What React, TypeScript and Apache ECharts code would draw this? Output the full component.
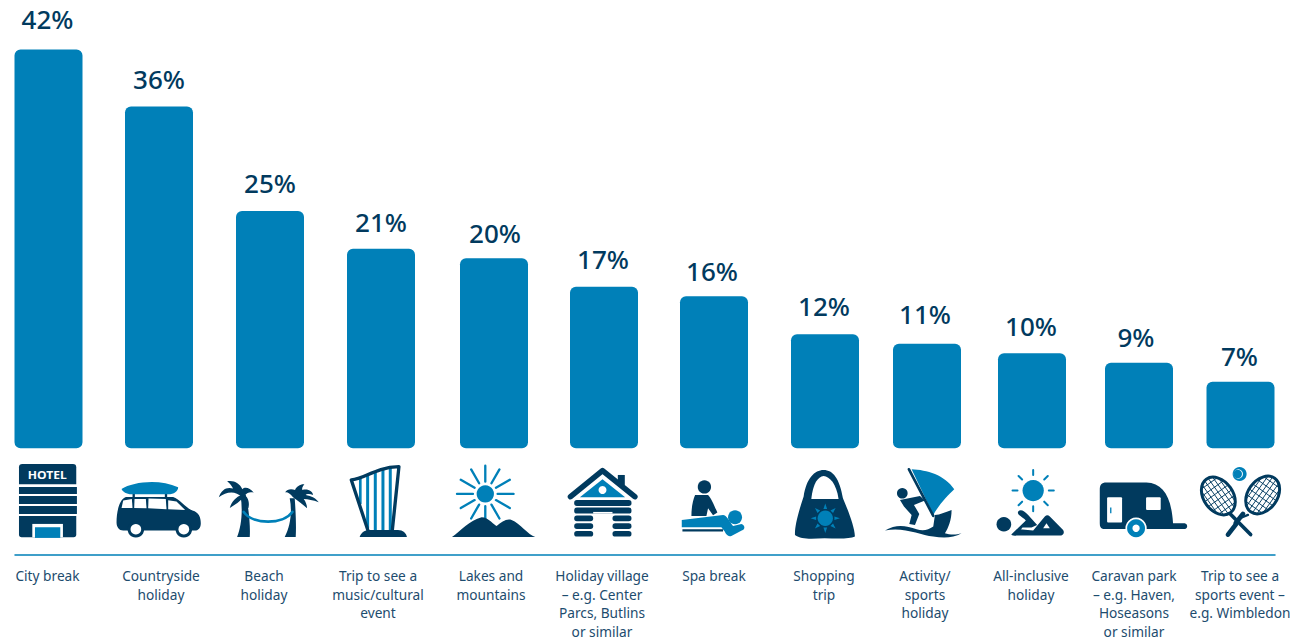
import React, { useEffect, useRef } from "react";
import * as echarts from "echarts";

const categories = [
  "City break",
  "Countryside\nholiday",
  "Beach\nholiday",
  "Trip to see a\nmusic/cultural\nevent",
  "Lakes and\nmountains",
  "Holiday village\n– e.g. Center\nParcs, Butlins\nor similar",
  "Spa break",
  "Shopping\ntrip",
  "Activity/\nsports\nholiday",
  "All-inclusive\nholiday",
  "Caravan park\n– e.g. Haven,\nHoseasons\nor similar",
  "Trip to see a\nsports event –\ne.g. Wimbledon",
];
const shares = [42, 36, 25, 21, 20, 17, 16, 12, 11, 10, 9, 7];

// Slot centres on the horizontal scale, which runs 15..1275 across the rule.
const barSlots = [48.5, 159, 270, 381, 494, 604, 714, 825, 927, 1032, 1139, 1240.5];
const captionSlots = [47.5, 161, 264, 378, 491, 602, 714, 824, 925, 1031, 1134, 1240];
const valueNudgeX = [-1, 0, 0, 0, 1, -1, -2, -1, -2, -1, -3, -1];
const valueNudgeY = [-5.5, -2, -3, -1.5, -0.5, -3, 0, -3, -5, -2, -1, -1];

const BLUE = "#0080b8";
const NAVY = "#013a5e";
const WHITE = "#ffffff";

let shapeCount = 0;
function pathEl(d: string, fill: string, stroke?: string, lineWidth?: number) {
  const name = "pictogram" + shapeCount++;
  echarts.graphic.registerShape(name, echarts.graphic.extendPath(d, {}));
  return {
    type: name,
    style: stroke ? { fill: fill, stroke, lineWidth, lineCap: "round", lineJoin: "round" } : { fill },
  };
}
const strokeEl = (d: string, color: string, width: number) => pathEl(d, "none", color, width);
const disc = (cx: number, cy: number, r: number, fill: string) => ({
  type: "circle",
  shape: { cx, cy, r },
  style: { fill },
});
const box = (x: number, y: number, width: number, height: number, fill: string, r = 0) => ({
  type: "rect",
  shape: { x, y, width, height, r },
  style: { fill },
});

function rays(cx: number, cy: number, r1: number, r2: number, n: number, start = 0) {
  let d = "";
  for (let i = 0; i < n; i++) {
    const a = start + (i * 2 * Math.PI) / n;
    d += `M ${cx + r1 * Math.cos(a)} ${cy + r1 * Math.sin(a)} L ${cx + r2 * Math.cos(a)} ${cy + r2 * Math.sin(a)} `;
  }
  return d;
}
function spikes(cx: number, cy: number, r1: number, r2: number, n: number, half: number) {
  let d = "";
  for (let i = 0; i < n; i++) {
    const a = (i * 2 * Math.PI) / n;
    const p = (r: number, t: number) => `${cx + r * Math.cos(t)} ${cy + r * Math.sin(t)}`;
    d += `M ${p(r1, a - half)} L ${p(r2, a)} L ${p(r1, a + half)} Z `;
  }
  return d;
}

// A racket head: outline plus crossing strings, built in the head's own frame.
function racketHead(cx: number, cy: number, rx: number, ry: number, rotation: number) {
  let strings = "";
  for (let u = -rx + 11; u < rx; u += 13) {
    const h = ry * Math.sqrt(1 - (u * u) / (rx * rx));
    strings += `M ${u} ${-h} L ${u} ${h} `;
    const w = rx * Math.sqrt(Math.max(0, 1 - (u * u) / (rx * rx)));
    strings += `M ${-w} ${(u * ry) / rx} L ${w} ${(u * ry) / rx} `;
  }
  return {
    type: "group",
    x: cx,
    y: cy,
    rotation,
    children: [
      { type: "ellipse", shape: { cx: 0, cy: 0, rx, ry }, style: { fill: WHITE } },
      strokeEl(strings, NAVY, 2.6),
      { type: "ellipse", shape: { cx: 0, cy: 0, rx, ry }, style: { fill: "none", stroke: NAVY, lineWidth: 9 } },
    ],
  };
}

function buildPictograms() {
  // Left third of the row
  const hotel = [
    pathEl("M 57 133 L 57 82 Q 57 72 67 72 L 219 72 Q 229 72 229 82 L 229 133 Z", NAVY),
    {
      type: "group",
      x: 142,
      y: 106,
      scaleX: 1.17,
      children: [
        {
          type: "text",
          style: {
            x: 0,
            y: 0,
            text: "HOTEL",
            fill: WHITE,
            font: "bold 31px 'Noto Sans'",
            textAlign: "center",
            textVerticalAlign: "middle",
          },
        },
      ],
    },
    box(57, 141, 174, 21, NAVY),
    box(57, 168, 174, 24, NAVY),
    box(57, 198, 174, 24, NAVY),
    pathEl("M 57 228 L 229 228 L 229 284 Q 229 292 221 292 L 65 292 Q 57 292 57 284 Z", NAVY),
    box(97, 252, 92, 40, WHITE),
    box(105, 262, 76, 32, BLUE),
  ];
  const van = [
    box(398, 158, 7, 18, NAVY),
    box(495, 158, 7, 18, NAVY),
    pathEl("M 365 147 C 400 125 480 116 535 142 C 535 155 520 165 500 163 L 395 163 C 380 163 368 155 365 147 Z", BLUE),
    pathEl("M 350 248 C 350 215 358 178 378 171 L 520 171 C 540 178 560 205 578 212 C 597 218 603 232 603 250 C 603 265 595 272 585 272 L 370 272 C 358 272 350 262 350 248 Z", NAVY),
    pathEl("M 365 204 L 370 182 L 396 177 L 398 204 Z", WHITE),
    pathEl("M 404 177 L 438 177 L 440 205 L 403 204 Z", WHITE),
    pathEl("M 446 176 L 498 177 L 500 208 L 445 205 Z", WHITE),
    pathEl("M 505 181 L 530 185 L 556 210 L 505 208 Z", WHITE),
    disc(408, 268, 25, NAVY),
    disc(408, 268, 16, WHITE),
    disc(552, 268, 25, NAVY),
    disc(552, 268, 16, WHITE),
  ];
  const palms = [
    pathEl("M 712 291 C 725 260 730 210 722 165 L 738 165 C 748 210 752 260 750 291 Z", NAVY),
    pathEl("M 728 172 C 705 150 680 155 657 172 C 665 150 680 140 700 146 C 694 135 688 128 682 124 C 702 120 720 130 728 148 C 735 140 750 143 762 158 C 750 155 742 158 736 166 C 746 175 750 190 746 205 C 738 195 732 182 728 172 Z", NAVY),
    pathEl("M 725 165 C 710 170 695 185 690 204 C 705 195 722 185 732 170 Z", NAVY),
    pathEl("M 855 291 C 872 260 878 215 870 175 L 885 175 C 888 215 890 260 888 291 Z", NAVY),
    pathEl("M 880 172 C 870 158 860 155 856 158 C 862 146 876 146 886 150 C 890 140 902 132 914 133 C 908 140 906 146 908 150 C 925 145 940 155 940 165 C 930 160 920 162 918 165 C 935 168 950 175 957 187 C 940 180 925 178 912 177 C 918 185 922 195 922 205 C 910 195 895 182 880 172 Z", NAVY),
    strokeEl("M 732 216 C 760 255 850 255 878 216", BLUE, 8),
  ];
  const harp = [
    strokeEl("M 1082 118 L 1082 190", BLUE, 8),
    strokeEl("M 1104 106 L 1104 262", BLUE, 9),
    strokeEl("M 1127 98 L 1127 272", BLUE, 9),
    strokeEl("M 1150 90 L 1150 272", BLUE, 9),
    strokeEl("M 1172 85 L 1172 272", BLUE, 9),
    strokeEl("M 1055 120 C 1095 118 1125 82 1198 80 L 1178 272 M 1055 120 L 1105 272", NAVY, 10),
    pathEl("M 1080 291 C 1085 277 1095 270 1110 270 L 1195 270 C 1210 270 1220 280 1222 291 Z", NAVY),
  ];

  // Middle third of the row
  const lakes = [
    disc(136, 162, 26, BLUE),
    strokeEl(rays(136, 162, 37, 85, 4), BLUE, 7),
    strokeEl(rays(136, 162, 37, 85, 4, Math.PI / 6) + rays(136, 162, 37, 85, 4, -Math.PI / 6), BLUE, 7),
    pathEl("M 36 291 C 60 275 90 240 125 232 C 145 232 165 258 170 258 C 185 245 200 235 215 240 C 240 250 265 285 286 291 Z", NAVY),
  ];
  const cabin = [
    box(534, 105, 21, 30, NAVY),
    strokeEl("M 392 170 L 488 92 L 585 170", NAVY, 17),
    pathEl("M 420 172 L 488 118 L 556 172 Z", BLUE),
    disc(488, 150, 12, WHITE),
    box(403, 180, 172, 18, NAVY, 8),
    box(403, 203, 172, 18, NAVY, 8),
    box(403, 227, 57, 17, NAVY, 8),
    box(518, 227, 57, 17, NAVY, 8),
    box(403, 250, 57, 17, NAVY, 8),
    box(518, 250, 57, 17, NAVY, 8),
    box(403, 273, 57, 17, NAVY, 8),
    box(518, 273, 57, 17, NAVY, 8),
    box(460, 216, 58, 5, WHITE),
  ];
  const spa = [
    disc(794, 141, 20, NAVY),
    pathEl("M 766 165 L 805 165 C 815 175 825 200 833 218 L 820 226 L 805 205 L 800 228 L 755 228 C 755 200 760 180 766 165 Z", NAVY),
    pathEl("M 726 240 L 850 225 C 860 225 870 245 880 258 L 905 252 C 916 255 918 268 906 272 L 875 288 C 865 291 860 285 855 275 L 845 262 L 726 262 Z", BLUE),
    disc(886, 232, 21, BLUE),
    box(728, 268, 122, 7, NAVY),
  ];
  const bag = [
    pathEl("M 1092 170 C 1100 115 1125 90 1152 90 C 1180 90 1200 115 1210 175 C 1225 210 1245 260 1246 290 C 1230 298 1190 296 1155 295 C 1120 296 1085 300 1066 285 C 1065 260 1075 220 1092 170 Z", NAVY),
    pathEl("M 1115 177 C 1120 130 1135 110 1152 108 C 1170 110 1190 130 1197 177 Z", WHITE),
    disc(1157, 235, 23, BLUE),
    pathEl(spikes(1157, 235, 28, 44, 8, 0.2), BLUE),
  ];

  // Right third of the row
  const windsurf = [
    pathEl("M 125 88 C 170 90 225 105 253 148 C 235 165 210 190 190 225 Z", BLUE),
    strokeEl("M 117 88 L 190 228", NAVY, 8),
    disc(97, 160, 16, NAVY),
    pathEl("M 90 180 L 150 168 L 165 182 L 132 195 L 148 222 L 135 255 L 118 252 L 125 225 L 102 200 Z", NAVY),
    pathEl("M 45 272 C 80 250 110 258 140 268 C 160 275 175 270 190 260 L 195 225 C 210 225 230 215 245 210 C 245 240 235 265 225 280 C 240 285 260 285 275 280 C 250 295 220 295 190 290 C 150 285 100 260 45 272 Z", NAVY),
  ];
  const sunbather = [
    disc(490, 152, 32, BLUE),
    strokeEl(rays(490, 152, 47, 62, 8), BLUE, 6),
    disc(402, 253, 22, NAVY),
    pathEl("M 425 283 L 468 242 C 455 228 440 225 445 215 C 452 207 462 212 475 225 L 502 255 L 485 263 L 458 263 L 438 287 C 428 288 422 285 425 283 Z", NAVY),
    pathEl("M 490 272 L 525 230 C 530 225 535 225 540 230 L 580 270 C 586 280 578 287 570 287 L 435 287 L 450 268 Z", NAVY),
    pathEl("M 520 265 L 530 250 L 540 265 Z", WHITE),
  ];
  const caravan = [
    pathEl("M 690 150 C 690 135 695 128 710 128 L 830 128 C 880 130 905 170 910 250 L 945 250 C 955 252 955 266 945 267 L 700 267 C 692 265 690 260 690 250 Z", NAVY),
    box(712, 172, 45, 76, WHITE, 3),
    box(721, 203, 4, 17, BLUE),
    box(829, 172, 44, 38, WHITE, 3),
    disc(799, 265, 32, WHITE),
    disc(799, 265, 27, BLUE),
    disc(799, 265, 11, WHITE),
  ];
  const rackets = [
    strokeEl("M 1120 222 L 1098 250 M 1100 252 L 1075 284", NAVY, 14),
    racketHead(1178, 165, 44, 62, -0.62),
    strokeEl("M 1135 225 L 1118 232", NAVY, 7),
    strokeEl("M 1082 222 L 1143 284", NAVY, 11),
    racketHead(1045, 168, 44, 62, 0.62),
    disc(1110, 102, 21, BLUE),
    disc(1106, 102, 14, WHITE),
    disc(1104, 102, 13, BLUE),
  ];

  const band = (x: number, children: any[]) => ({
    type: "group",
    x,
    y: 440,
    scaleX: 1 / 3,
    scaleY: 1 / 3,
    silent: true,
    children,
  });
  return [
    band(0, [...hotel, ...van, ...palms, ...harp]),
    band(440, [...lakes, ...cabin, ...spa, ...bag]),
    band(870, [...windsurf, ...sunbather, ...caravan, ...rackets]),
  ];
}

export default function App() {
  const ref = useRef<HTMLDivElement>(null);

  useEffect(() => {
    const chart = echarts.init(ref.current!, null, { renderer: "svg" });
    chart.setOption({
      animation: false,
      backgroundColor: "#ffffff",
      grid: { left: 15, right: 32, top: 49.5, bottom: 189, containLabel: false },
      xAxis: {
        type: "value",
        min: 15,
        max: 1275,
        offset: 107,
        splitLine: { show: false },
        axisTick: { show: false },
        axisLine: { show: true, onZero: false, lineStyle: { color: BLUE, width: 1.5 } },
        axisLabel: {
          customValues: captionSlots,
          formatter: (v: number) => categories[captionSlots.indexOf(v)],
          interval: 0,
          hideOverlap: false,
          margin: 11,
          verticalAlign: "top",
          align: "center",
          color: "#1d4c6e",
          fontFamily: "'Noto Sans'",
          fontSize: 13.7,
          lineHeight: 18.7,
        },
      },
      yAxis: { type: "value", min: 0, max: 42, show: false, splitLine: { show: false } },
      series: [
        {
          type: "bar",
          barWidth: 68,
          itemStyle: { color: BLUE, borderRadius: 6 },
          label: {
            show: true,
            position: "top",
            distance: 12,
            color: NAVY,
            fontFamily: "'Noto Sans'",
            fontSize: 26,
            fontWeight: 500,
            formatter: (p: any) => p.value[1] + "%",
          },
          data: shares.map((v, i) => ({
            value: [barSlots[i], v],
            label: { offset: [valueNudgeX[i], valueNudgeY[i]] },
          })),
        },
      ],
      graphic: { elements: buildPictograms() },
    });
    return () => chart.dispose();
  }, []);

  return (
    <div
      ref={ref}
      style={{ position: "absolute", left: 0, top: 0, width: 1307, height: 641 }}
    />
  );
}
